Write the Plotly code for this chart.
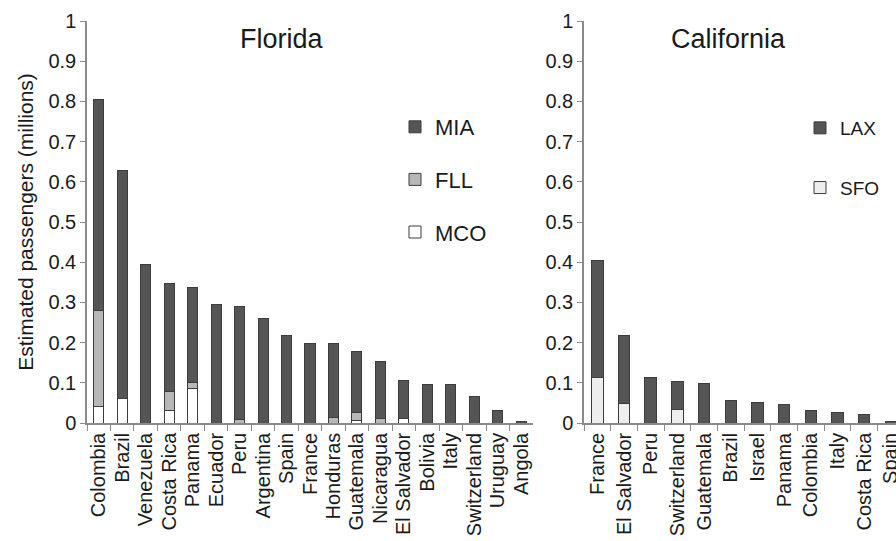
import plotly.graph_objects as go

# ---------------- Data ----------------
fl_countries = ["Colombia", "Brazil", "Venezuela", "Costa Rica", "Panama", "Ecuador", "Peru",
                "Argentina", "Spain", "France", "Honduras", "Guatemala", "Nicaragua",
                "El Salvador", "Bolivia", "Italy", "Switzerland", "Uruguay", "Angola"]
fl_mco = [0.042, 0.062, 0, 0.032, 0.087, 0, 0, 0, 0, 0, 0, 0.007, 0, 0.011, 0, 0, 0, 0, 0]
fl_fll = [0.237, 0, 0, 0.046, 0.013, 0, 0.009, 0, 0, 0, 0.014, 0.019, 0.011, 0, 0, 0, 0, 0, 0]
fl_mia = [0.525, 0.565, 0.395, 0.268, 0.237, 0.296, 0.281, 0.259, 0.217, 0.199, 0.185,
          0.152, 0.142, 0.095, 0.095, 0.095, 0.066, 0.032, 0.003]

ca_countries = ["France", "El Salvador", "Peru", "Switzerland", "Guatemala", "Brazil", "Israel",
                "Panama", "Colombia", "Italy", "Costa Rica", "Spain"]
ca_sfo = [0.112, 0.048, 0, 0.033, 0, 0, 0, 0, 0, 0, 0, 0]
ca_lax = [0.291, 0.170, 0.113, 0.071, 0.098, 0.055, 0.050, 0.046, 0.030, 0.025, 0.022, 0.003]

y_ticks = [0, 0.1, 0.2, 0.3, 0.4, 0.5, 0.6, 0.7, 0.8, 0.9, 1]

# ---------------- Style ----------------
W, H = 896, 541
FONT = "Liberation Sans, Arial, sans-serif"
DARK = "#555555"
EDGE = "#3c3c3c"
AXIS = "#8a8a8a"
TXT = "#1a1a1a"

fig = go.Figure()

def bar(x, y, name, color, xa, ya, legend, rank):
    return go.Bar(x=x, y=y, name=name, xaxis=xa, yaxis=ya, legend=legend,
                  legendgroup=name, legendrank=rank,
                  marker=dict(color=color, line=dict(color=EDGE, width=1)),
                  width=0.43)

fig.add_trace(bar(fl_countries, fl_mco, "MCO", "#ffffff", "x", "y", "legend", 3))
fig.add_trace(bar(fl_countries, fl_fll, "FLL", "#b7b7b7", "x", "y", "legend", 2))
fig.add_trace(bar(fl_countries, fl_mia, "MIA", DARK, "x", "y", "legend", 1))
fig.add_trace(bar(ca_countries, ca_sfo, "SFO", "#eeeeee", "x2", "y2", "legend2", 2))
fig.add_trace(bar(ca_countries, ca_lax, "LAX", DARK, "x2", "y2", "legend2", 1))

ydom = [(H - 423) / H, (H - 21) / H]

xcommon = dict(type="category", showline=True, linecolor=AXIS, linewidth=1.5,
               ticks="outside", tickson="boundaries", ticklen=6, tickcolor=AXIS,
               tickmode="linear", tick0=0, dtick=1, automargin=False,
               tickangle=-90, tickfont=dict(family=FONT, size=20, color=TXT),
               showgrid=False, zeroline=False, fixedrange=True)
ycommon = dict(range=[0, 1], tickvals=y_ticks, showline=True, linecolor=AXIS, linewidth=1.5,
               ticks="outside", ticklen=5, tickcolor=AXIS, showgrid=False, zeroline=False,
               automargin=False,
               tickfont=dict(family=FONT, size=20, color=TXT), domain=ydom)

fig.update_layout(
    width=W, height=H, barmode="stack", bargap=0.5,
    paper_bgcolor="white", plot_bgcolor="white",
    margin=dict(l=0, r=0, t=0, b=0),
    font=dict(family=FONT, color=TXT),
    xaxis=dict(xcommon, domain=[87 / W, 533 / W], range=[-0.5, 18.5],
               categoryorder="array", categoryarray=fl_countries, anchor="y"),
    yaxis=dict(ycommon, anchor="x",
               title=dict(text="Estimated passengers (millions)",
                          font=dict(family=FONT, size=21, color=TXT), standoff=9)),
    xaxis2=dict(xcommon, domain=[584 / W, 1.0], range=[-0.5, 11.19],
                categoryorder="array", categoryarray=ca_countries, anchor="y2"),
    yaxis2=dict(ycommon, anchor="x2"),
    legend=dict(x=395 / W, y=(H - 106) / H, xanchor="left", yanchor="top",
                traceorder="grouped", tracegroupgap=21,
                font=dict(family=FONT, size=22, color=TXT), bgcolor="rgba(0,0,0,0)"),
    legend2=dict(x=800 / W, y=(H - 109) / H, xanchor="left", yanchor="top",
                 traceorder="grouped", tracegroupgap=32,
                 font=dict(family=FONT, size=19, color=TXT), bgcolor="rgba(0,0,0,0)"),
    showlegend=True,
    annotations=[
        dict(text="Florida", x=282 / W, y=(H - 39) / H, xref="paper", yref="paper",
             xanchor="center", yanchor="middle",
             showarrow=False, font=dict(family=FONT, size=27, color=TXT)),
        dict(text="California", x=728 / W, y=(H - 39) / H, xref="paper", yref="paper",
             xanchor="center", yanchor="middle",
             showarrow=False, font=dict(family=FONT, size=27, color=TXT)),
    ],
)

fig.write_html("out.html", config={"displayModeBar": False},
               post_script="document.body.style.margin='0';document.body.style.overflow='hidden';")
